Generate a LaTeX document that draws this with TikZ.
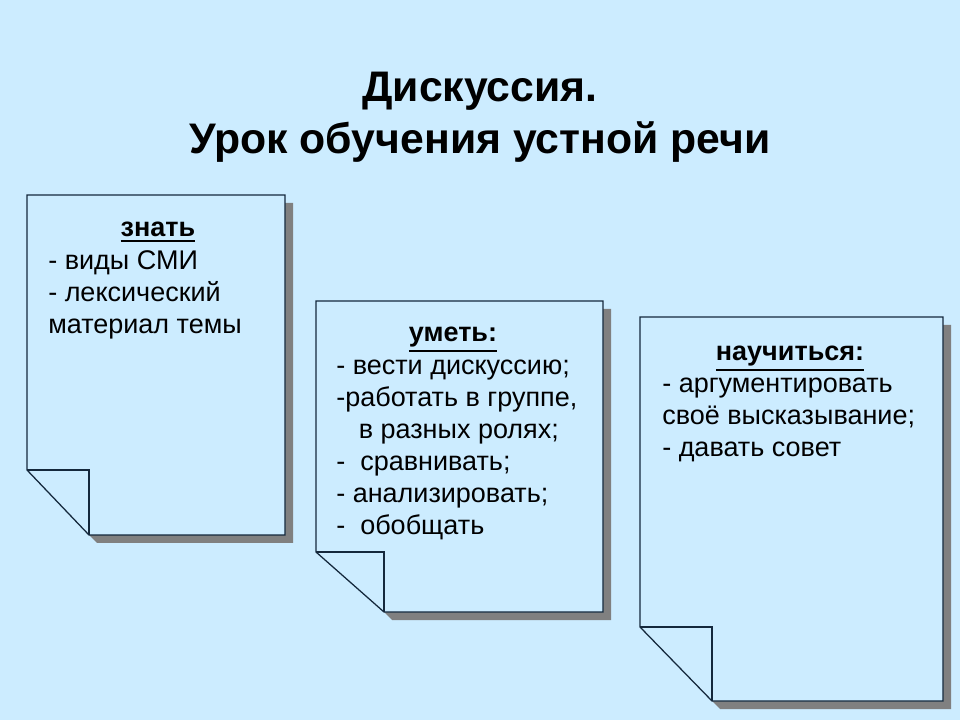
\documentclass[tikz,border=0pt]{standalone}
\usepackage{fontspec}
\setmainfont{Liberation Sans}
\definecolor{slidebg}{HTML}{CCECFF}
\definecolor{pageline}{HTML}{14283C}
\definecolor{pageshadow}{HTML}{808080}
\newcommand{\headrule}[1]{\vtop{\hbox{#1}\kern1.6pt\hrule height 1.5pt}}
\begin{document}
\begin{tikzpicture}[x=0.025cm, y=0.025cm]
                      \tikzstyle{every node}+=[inner sep=0pt]
                      \tikzstyle{titletext}=[font=\fontsize{30.4}{37}\selectfont\bfseries, align=center]
                      \tikzstyle{headtext}=[font=\fontsize{19.2}{22.75}\selectfont\bfseries, anchor=base]
                      \tikzstyle{bodytext}=[font=\fontsize{19.2}{22.75}\selectfont, align=left, anchor=north west]
                      \tikzstyle{pagefill}=[fill=slidebg, draw=pageline, line width=0.9pt, line join=miter]
                      \fill [slidebg] (0,0) rectangle (960,-720);
                      % first page
                      \fill [pageshadow] (97,-543) -- (293,-543) -- (293,-203) -- (285,-203) -- (285,-535) -- (89,-535);
                      \draw [pagefill] (27,-195) -- (285,-195) -- (285,-535) -- (89,-535) -- (27,-470) -- cycle;
                      \draw [pageline, line width=0.9pt] (27,-470) -- (89,-470) -- (89,-535);
                      % second page
                      \fill [pageshadow] (392,-620) -- (611,-620) -- (611,-309) -- (603,-309) -- (603,-612) -- (384,-612);
                      \draw [pagefill] (316,-301) -- (603,-301) -- (603,-612) -- (384,-612) -- (316,-552) -- cycle;
                      \draw [pageline, line width=0.9pt] (316,-552) -- (384,-552) -- (384,-612);
                      % third page
                      \fill [pageshadow] (720,-709) -- (951,-709) -- (951,-325) -- (943,-325) -- (943,-701) -- (712,-701);
                      \draw [pagefill] (640,-317) -- (943,-317) -- (943,-701) -- (712,-701) -- (640,-627) -- cycle;
                      \draw [pageline, line width=0.9pt] (640,-627) -- (712,-627) -- (712,-701);
                      % texts
                      \node [titletext] (title) at (480,-117) {Дискуссия.\\Урок обучения устной речи};
                      \node [headtext] (know) at (158,-237) {\headrule{знать}};
                      \node [bodytext] (knowlist) at (48,-250) {- виды СМИ\\- лексический\\материал темы};
                      \node [headtext] (can) at (453,-342) {\headrule{уметь:}};
                      \node [bodytext] (canlist) at (336,-360) {- вести дискуссию;\\-работать в группе,\\\hspace{16pt}в разных ролях;\\-\ \ сравнивать;\\- анализировать;\\-\ \ обобщать};
                      \node [headtext] (learn) at (790,-361) {\headrule{научиться:}};
                      \node [bodytext] (learnlist) at (662,-378) {- аргументировать\\своё высказывание;\\- давать совет};
                  \end{tikzpicture}
\end{document}
